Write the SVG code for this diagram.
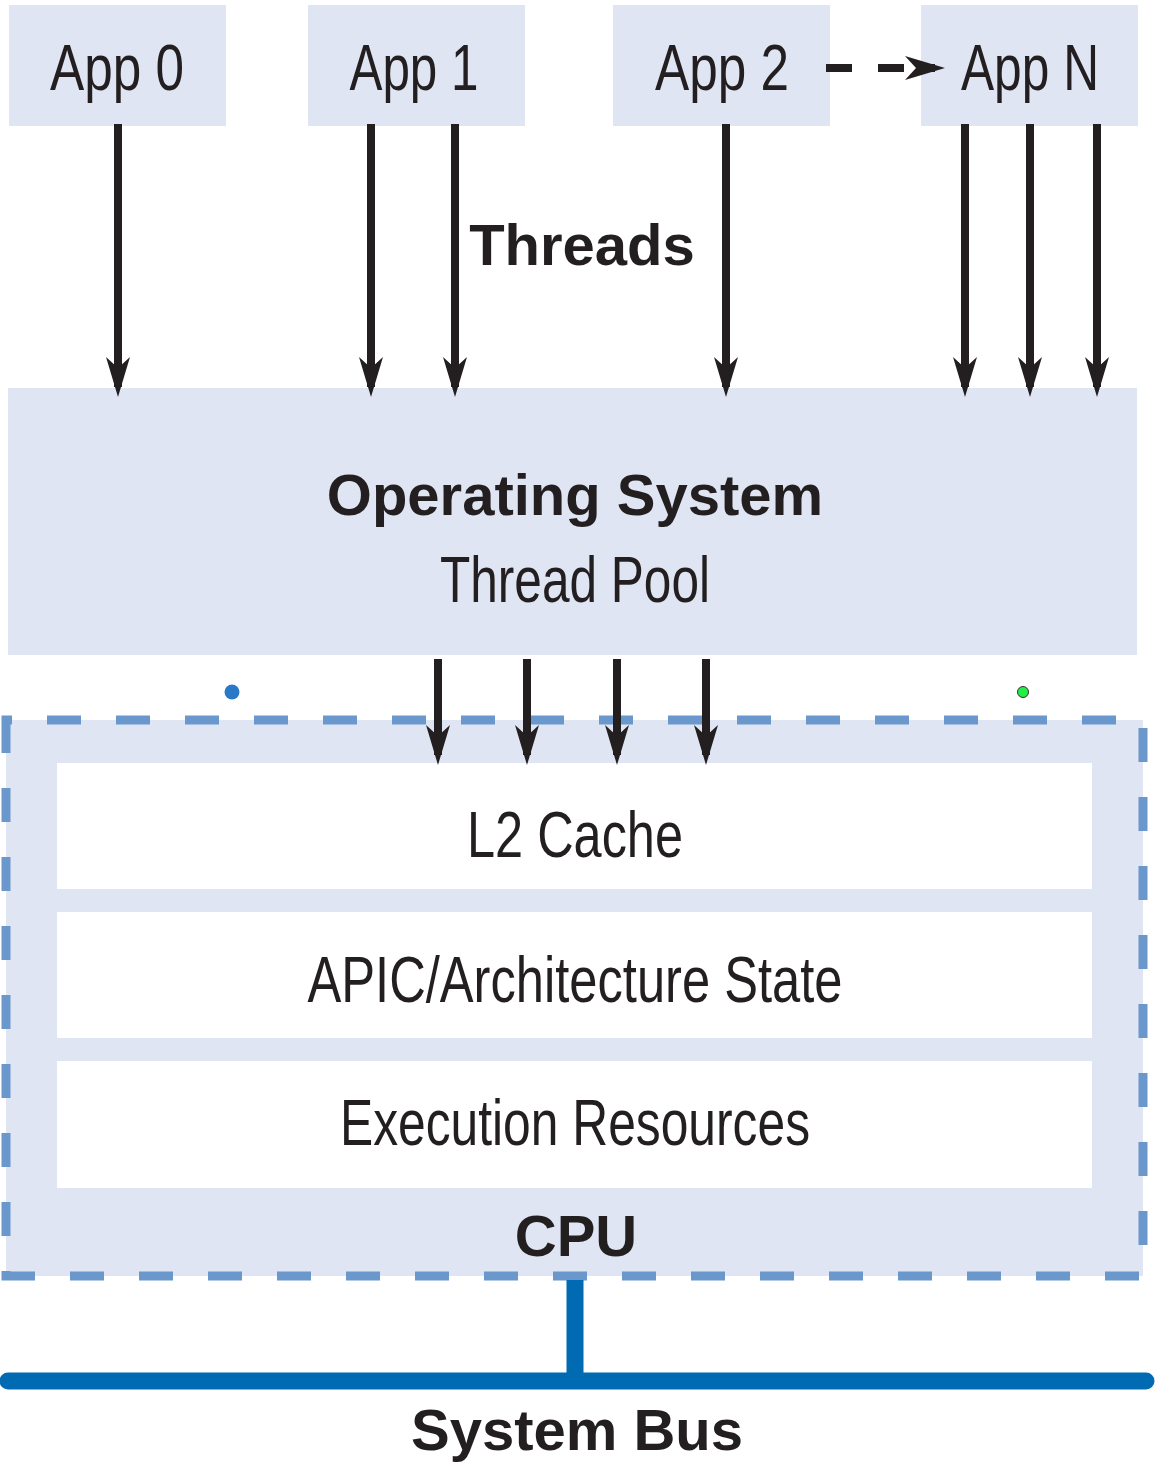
<svg xmlns="http://www.w3.org/2000/svg" width="1158" height="1472" viewBox="0 0 1158 1472">
<style>
.box{fill:#dfe5f3}
.inner{fill:#ffffff}
.lt{font-family:"Liberation Sans Narrow","Liberation Sans",Arial,sans-serif;font-size:65px;fill:#231f20;text-anchor:middle}
.bd{font-family:"Liberation Sans",Arial,sans-serif;font-weight:bold;font-size:58px;fill:#231f20;text-anchor:middle}
.arr{stroke:#231f20;stroke-width:8;fill:none;marker-end:url(#ah)}
</style>
<defs>
<marker id="ah" markerUnits="userSpaceOnUse" markerWidth="40" markerHeight="24" viewBox="0 0 40 24" refX="30" refY="12" orient="auto" overflow="visible">
<path d="M0,0 L40,12 L0,24 L11,12 Z" fill="#231f20"/>
</marker>
</defs>
<rect width="1158" height="1472" fill="#ffffff"/>
<g id="app0"><rect class="box" x="9" y="5" width="217" height="121"/><text class="lt" x="117" y="90" textLength="134" lengthAdjust="spacingAndGlyphs">App 0</text></g>
<g id="app1"><rect class="box" x="308" y="5" width="217" height="121"/><text class="lt" x="414" y="90" textLength="129" lengthAdjust="spacingAndGlyphs">App 1</text></g>
<g id="app2"><rect class="box" x="613" y="5" width="217" height="121"/><text class="lt" x="722" y="90" textLength="134" lengthAdjust="spacingAndGlyphs">App 2</text></g>
<g id="appN"><rect class="box" x="921" y="5" width="217" height="121"/><text class="lt" x="1030" y="90" textLength="138" lengthAdjust="spacingAndGlyphs">App N</text></g>
<g id="os"><rect class="box" x="8" y="388" width="1129" height="267"/>
<text class="bd" x="575" y="515">Operating System</text>
<text class="lt" x="575" y="602" textLength="270" lengthAdjust="spacingAndGlyphs">Thread Pool</text></g>
<g id="cpu"><rect class="box" x="6" y="720" width="1137" height="556"/>
<rect x="6" y="720" width="1137" height="556" fill="none" stroke="#6a97cc" stroke-width="9" stroke-dasharray="34 35" stroke-dashoffset="28"/>
<text class="bd" x="576" y="1256">CPU</text></g>
<g id="l2"><rect class="inner" x="57" y="763" width="1035" height="126"/><text class="lt" x="575" y="857" textLength="216" lengthAdjust="spacingAndGlyphs">L2 Cache</text></g>
<g id="apic"><rect class="inner" x="57" y="912" width="1035" height="126"/><text class="lt" x="575" y="1002" textLength="535" lengthAdjust="spacingAndGlyphs">APIC/Architecture State</text></g>
<g id="exec"><rect class="inner" x="57" y="1061" width="1035" height="127"/><text class="lt" x="575" y="1145" textLength="470" lengthAdjust="spacingAndGlyphs">Execution Resources</text></g>
<g id="bus"><line x1="575" y1="1280" x2="575" y2="1381" stroke="#006bb3" stroke-width="17"/>
<line x1="8" y1="1381" x2="1146" y2="1381" stroke="#006bb3" stroke-width="17" stroke-linecap="round"/>
<text class="bd" x="577" y="1450">System Bus</text></g>
<g id="dots"><circle cx="232" cy="692" r="7.5" fill="#2a78c8"/><circle cx="1023" cy="692" r="5.5" fill="#22ee44" stroke="#333" stroke-width="1"/></g>
<g id="connectors">
<line class="arr" x1="118" y1="124" x2="118" y2="387"/>
<line class="arr" x1="371" y1="124" x2="371" y2="387"/>
<line class="arr" x1="455" y1="124" x2="455" y2="387"/>
<line class="arr" x1="726" y1="124" x2="726" y2="387"/>
<line class="arr" x1="965" y1="124" x2="965" y2="387"/>
<line class="arr" x1="1030" y1="124" x2="1030" y2="387"/>
<line class="arr" x1="1097" y1="124" x2="1097" y2="387"/>
<line class="arr" x1="438" y1="659" x2="438" y2="755"/>
<line class="arr" x1="527" y1="659" x2="527" y2="755"/>
<line class="arr" x1="617" y1="659" x2="617" y2="755"/>
<line class="arr" x1="706" y1="659" x2="706" y2="755"/>
<line class="arr" x1="826" y1="68" x2="935" y2="68" stroke-dasharray="26 26"/>
</g>
<text class="bd" x="582" y="265">Threads</text>
</svg>
